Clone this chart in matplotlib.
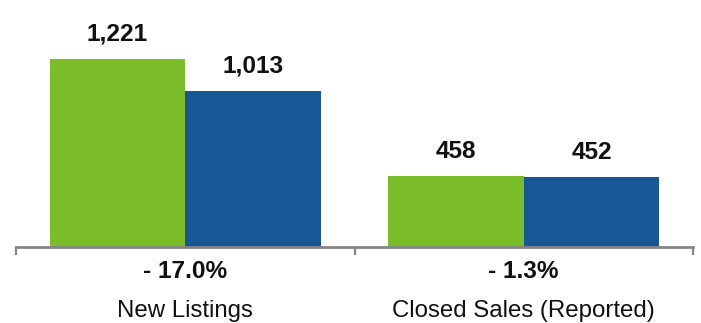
import matplotlib.pyplot as plt
import numpy as np

plt.rcParams['font.family'] = ['Liberation Sans', 'DejaVu Sans']

categories = ['New Listings', 'Closed Sales (Reported)']
prior_year = [1221, 458]
current_year = [1013, 452]
pct_change = ['- 17.0%', '- 1.3%']

GREEN = '#7bbd29'
BLUE = '#175697'
AXIS_GREY = '#858585'

fig = plt.figure(figsize=(7.01, 3.23), dpi=100)
ax = fig.add_axes([16 / 701, 76.5 / 323, 677 / 701, 246.5 / 323])

x = np.arange(len(categories))
w = 0.4
bars_a = ax.bar(x - w / 2, prior_year, w, color=GREEN)
bars_b = ax.bar(x + w / 2, current_year, w, color=BLUE)

ax.set_xlim(-0.5, 1.5)
ax.set_ylim(0, 1601)

for bars in (bars_a, bars_b):
    for b in bars:
        h = b.get_height()
        ax.annotate(f'{h:,.0f}', (b.get_x() + b.get_width() / 2, h),
                    xytext=(0, 13), textcoords='offset points',
                    ha='center', va='baseline', fontsize=17.6,
                    fontweight='bold', color='#111111')

# change and category labels under the axis
for xi, pct, name in zip(x, pct_change, categories):
    ax.annotate(pct, (xi, 0), xycoords=('data', 'axes fraction'),
                xytext=(0, -22.7), textcoords='offset points',
                ha='center', va='baseline', fontsize=17.6,
                fontweight='bold', color='#111111')
    ax.annotate(name, (xi, 0), xycoords=('data', 'axes fraction'),
                xytext=(0, -50.8), textcoords='offset points',
                ha='center', va='baseline', fontsize=17.3,
                color='#111111')

for s in ('top', 'right', 'left'):
    ax.spines[s].set_visible(False)
ax.spines['bottom'].set_color(AXIS_GREY)
ax.spines['bottom'].set_linewidth(2)
ax.set_yticks([])
ax.set_xticks([-0.5, 0.5, 1.5])
ax.set_xticklabels([])
ax.tick_params(axis='x', direction='out', length=6, width=1.6, color=AXIS_GREY)

fig.savefig('out.png', dpi=100)
